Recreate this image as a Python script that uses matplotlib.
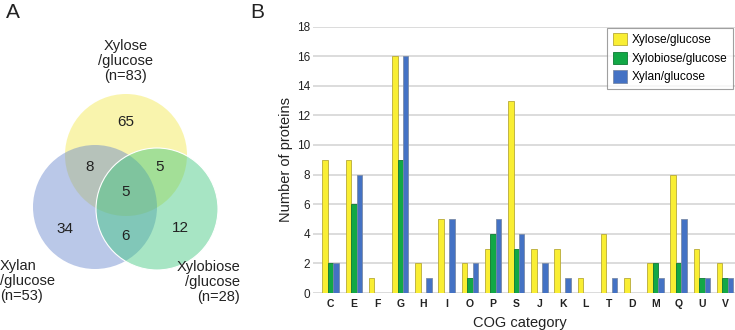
import matplotlib.pyplot as plt
import numpy as np
from matplotlib.patches import Circle

plt.rcParams['font.family'] = ['Liberation Sans', 'DejaVu Sans']

# bar chart data
categories = ["C", "E", "F", "G", "H", "I", "O", "P", "S", "J", "K", "L", "T", "D", "M", "Q", "U", "V"]
xylose = [9, 9, 1, 16, 2, 5, 2, 3, 13, 3, 3, 1, 4, 1, 2, 8, 3, 2]
xylobiose = [2, 6, 0, 9, 0, 0, 1, 4, 3, 0, 0, 0, 0, 0, 2, 2, 1, 1]
xylan = [2, 8, 0, 16, 1, 5, 2, 5, 4, 2, 1, 0, 1, 0, 1, 5, 1, 1]
series_names = ["Xylose/glucose", "Xylobiose/glucose", "Xylan/glucose"]

# venn data
venn_counts = {"xylose": 65, "xylose_xylan": 8, "xylose_xylobiose": 5, "all": 5,
               "xylan": 34, "xylan_xylobiose": 6, "xylobiose": 12}
set_labels = ["Xylose\n/glucose\n(n=83)", "Xylan\n/glucose\n(n=53)", "Xylobiose\n/glucose\n(n=28)"]

fig = plt.figure(figsize=(7.35, 3.3), dpi=100)

# ---- panel A: venn ----
axv = fig.add_axes([0, 0, 240 / 735, 1])
axv.set_xlim(0, 240)
axv.set_ylim(330, 0)
axv.axis("off")

circles = [((126, 155), 61, "#f3e84a"), ((95, 207), 62, "#6685cc"), ((157, 209), 61, "#3cc77e")]
for (cx, cy), r, col in circles:
    axv.add_patch(Circle((cx, cy), r, facecolor=col, edgecolor="none", alpha=0.45))
axv.add_patch(Circle((157, 209), 61, facecolor="none", edgecolor="white", lw=0.8))

num_pos = {"xylose": (126, 122), "xylose_xylan": (90, 167), "xylose_xylobiose": (160, 167),
           "all": (126, 192), "xylan": (65, 229), "xylan_xylobiose": (126, 236), "xylobiose": (180, 228)}
for k, v in venn_counts.items():
    x, y = num_pos[k]
    axv.text(x, y, str(v), ha="center", va="center", fontsize=11, color="#222222")

axv.text(126, 61, set_labels[0], ha="center", va="center", fontsize=10.5, color="#222222", linespacing=1.1)
axv.text(0, 281, set_labels[1], ha="left", va="center", fontsize=10.5, color="#222222", linespacing=1.1)
axv.text(240, 282, set_labels[2], ha="right", va="center", fontsize=10.5, color="#222222",
         linespacing=1.1, multialignment="right")
axv.text(6, 12, "A", ha="left", va="center", fontsize=15, color="#222222")
fig.text(250 / 735, 1 - 12 / 330, "B", ha="left", va="center", fontsize=15, color="#222222")

# ---- panel B: bars ----
ax = fig.add_axes([313 / 735, 37 / 330, 422 / 735, 266.5 / 330])
x = np.arange(len(categories))
w = 0.235
ax.bar(x - w, xylose, w, color="#f9ee33", edgecolor="#b8aa38", linewidth=0.6, label=series_names[0], zorder=3)
ax.bar(x, xylobiose, w, color="#12a846", edgecolor="#0e7a34", linewidth=0.6, label=series_names[1], zorder=3)
ax.bar(x + w, xylan, w, color="#4472c4", edgecolor="#7a8ba8", linewidth=0.6, label=series_names[2], zorder=3)

ax.set_xlim(-0.76, 17.43)
ax.set_ylim(0, 18)
ax.set_yticks(range(0, 19, 2))
ax.yaxis.grid(True, color="#d6d6d6", linewidth=1.2, zorder=0)
for s in ax.spines.values():
    s.set_visible(False)
ax.tick_params(axis="both", length=0, colors="#222222")
ax.tick_params(axis="y", pad=2, labelsize=8.5)
ax.tick_params(axis="x", pad=4)
ax.set_xticks(x)
ax.set_xticklabels(categories, fontweight="bold", fontsize=7.5)
ax.set_ylabel("Number of proteins", fontsize=10.5, color="#222222", labelpad=3)
ax.set_xlabel("COG category", fontsize=10.5, color="#222222", labelpad=2)
ax.xaxis.set_label_coords(0.49, -0.085)

leg = ax.legend(loc="upper right", bbox_to_anchor=(0.995, 0.995), fontsize=8.6, frameon=True, fancybox=False,
                handlelength=1.2, handleheight=1.2, borderpad=0.45, labelspacing=0.45, handletextpad=0.4,
                borderaxespad=0)
leg.get_frame().set_edgecolor("#888888")
leg.get_frame().set_linewidth(0.8)

fig.savefig("out.png", dpi=100)
